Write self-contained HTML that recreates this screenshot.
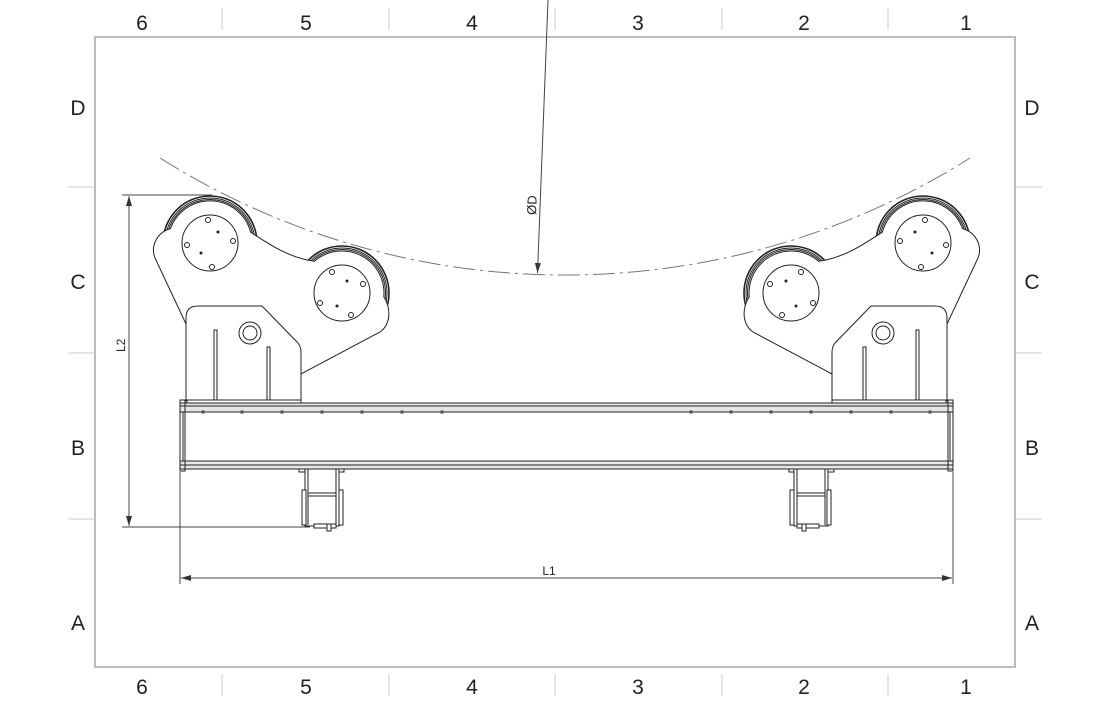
<!DOCTYPE html>
<html><head><meta charset="utf-8"><style>
html,body{margin:0;padding:0;background:#fff}
svg{display:block}
text{font-family:"Liberation Sans",sans-serif;fill:#222}
</style></head><body>
<svg width="1110" height="720" viewBox="0 0 1110 720" xmlns="http://www.w3.org/2000/svg">
<defs>
<marker id="ar" markerWidth="10" markerHeight="8" refX="10" refY="4" orient="auto-start-reverse" markerUnits="userSpaceOnUse">
<path d="M0,1 L10,4 L0,7 Z" fill="#333"/></marker>
<g id="asm" fill="#fff" stroke="#222" stroke-width="1">
  <circle cx="210" cy="243" r="47" stroke-width="1.6"/><circle cx="210" cy="243" r="45" fill="none"/><circle cx="210" cy="243" r="43.5" fill="none"/>
  <circle cx="342" cy="293" r="47" stroke-width="1.6"/><circle cx="342" cy="293" r="45" fill="none"/><circle cx="342" cy="293" r="43.5" fill="none"/>
  <path d="M170.5,228.6 A42 42 0 0 1 250.6,232.1 C270,245 290,258 314.4,261.3 A42 42 0 0 1 383.8,296.7 C392,310 390,325 380,332 L301,374 L186,324 L155,258 C150,245 158,232 170.5,228.6 Z"/>
  <circle cx="210" cy="243" r="28"/>
  <circle cx="208" cy="220" r="2.5"/><circle cx="187" cy="245" r="2.5"/><circle cx="233" cy="241" r="2.5"/><circle cx="212" cy="267" r="2.5"/>
  <circle cx="218" cy="232" r="1" fill="#222"/><circle cx="201" cy="253" r="1" fill="#222"/>
  <circle cx="342" cy="293" r="28"/>
  <circle cx="332" cy="272" r="2.5"/><circle cx="363" cy="284" r="2.5"/><circle cx="320" cy="303" r="2.5"/><circle cx="351" cy="315" r="2.5"/>
  <circle cx="347" cy="281" r="1" fill="#222"/><circle cx="337" cy="306" r="1" fill="#222"/>
  <path d="M186,401 L186,318 Q186,306 198,306 L262,306 L298,343 Q301,347 301,352 L301,401 Z"/>
  <circle cx="250" cy="333" r="11"/><circle cx="250" cy="333" r="7"/>
  <rect x="214" y="330" width="3" height="70"/><rect x="267" y="347" width="3" height="53"/>
  <rect x="187" y="400" width="114" height="3"/>
  <rect x="299" y="466" width="7" height="6"/><rect x="337" y="466" width="7" height="6"/>
  <rect x="305" y="469" width="34" height="57"/>
  <line x1="308" y1="469" x2="308" y2="525"/><line x1="336" y1="469" x2="336" y2="525"/>
  <rect x="302" y="490" width="4" height="35"/><rect x="339" y="490" width="4" height="35"/>
  <line x1="308" y1="493" x2="336" y2="493"/><line x1="308" y1="496" x2="336" y2="496"/>
  <rect x="314" y="524" width="22" height="4"/><rect x="327" y="524" width="4" height="7"/>
</g>
</defs>

<rect x="95" y="37" width="920" height="630" fill="none" stroke="#bbb" stroke-width="2"/>
<g stroke="#ccc" stroke-width="1">
  <line x1="222" y1="8" x2="222" y2="30"/><line x1="389" y1="8" x2="389" y2="30"/><line x1="555" y1="8" x2="555" y2="30"/><line x1="722" y1="8" x2="722" y2="30"/><line x1="888" y1="8" x2="888" y2="30"/>
  <line x1="222" y1="674" x2="222" y2="696"/><line x1="389" y1="674" x2="389" y2="696"/><line x1="555" y1="674" x2="555" y2="696"/><line x1="722" y1="674" x2="722" y2="696"/><line x1="888" y1="674" x2="888" y2="696"/>
  <line x1="68" y1="187" x2="95" y2="187"/><line x1="68" y1="353" x2="95" y2="353"/><line x1="68" y1="519" x2="95" y2="519"/>
  <line x1="1015" y1="187" x2="1042" y2="187"/><line x1="1015" y1="353" x2="1042" y2="353"/><line x1="1015" y1="519" x2="1042" y2="519"/>
</g>
<g font-size="21" text-anchor="middle">
  <text x="142" y="30">6</text><text x="306" y="30">5</text><text x="472" y="30">4</text><text x="638" y="30">3</text><text x="804" y="30">2</text><text x="966" y="30">1</text>
  <text x="142" y="694">6</text><text x="306" y="694">5</text><text x="472" y="694">4</text><text x="638" y="694">3</text><text x="804" y="694">2</text><text x="966" y="694">1</text>
  <text x="78" y="115">D</text><text x="78" y="289">C</text><text x="78" y="455">B</text><text x="78" y="630">A</text>
  <text x="1032" y="115">D</text><text x="1032" y="289">C</text><text x="1032" y="455">B</text><text x="1032" y="630">A</text>
</g>

<path d="M160,158 A759.5 759.5 0 0 0 970,158" fill="none" stroke="#777" stroke-width="1" stroke-dasharray="22,5,3,5"/>
<line x1="548" y1="0" x2="537.5" y2="273" stroke="#444" stroke-width="1" marker-end="url(#ar)"/>
<text x="0" y="0" font-size="13" transform="translate(536,215) rotate(-88)">ØD</text>

<use href="#asm"/>
<use href="#asm" transform="translate(1133,0) scale(-1,1)"/>

<g stroke="#222" stroke-width="1">
  <rect x="180" y="403" width="773" height="9" fill="#e6e6e6"/>
  <line x1="180" y1="406" x2="953" y2="406"/>
  <rect x="183" y="412" width="767" height="49" fill="#fff"/>
  <rect x="180" y="461" width="773" height="8" fill="#e6e6e6"/>
  <line x1="180" y1="465" x2="953" y2="465"/>
  <rect x="180" y="400" width="5" height="71" fill="none"/>
  <rect x="948" y="400" width="5" height="71" fill="none"/>
</g>
<g fill="#555">
  <circle cx="203" cy="412" r="1.8"/><circle cx="242" cy="412" r="1.8"/><circle cx="282" cy="412" r="1.8"/><circle cx="322" cy="412" r="1.8"/><circle cx="362" cy="412" r="1.8"/><circle cx="402" cy="412" r="1.8"/><circle cx="442" cy="412" r="1.8"/>
  <circle cx="691" cy="412" r="1.8"/><circle cx="731" cy="412" r="1.8"/><circle cx="771" cy="412" r="1.8"/><circle cx="811" cy="412" r="1.8"/><circle cx="851" cy="412" r="1.8"/><circle cx="891" cy="412" r="1.8"/><circle cx="930" cy="412" r="1.8"/>
</g>

<g stroke="#444" stroke-width="1" fill="none">
  <line x1="122" y1="195" x2="212" y2="195"/>
  <line x1="122" y1="527" x2="310" y2="527"/>
  <line x1="129" y1="196" x2="129" y2="526" marker-start="url(#ar)" marker-end="url(#ar)"/>
  <line x1="180" y1="472" x2="180" y2="584"/>
  <line x1="953" y1="472" x2="953" y2="584"/>
  <line x1="181" y1="578" x2="952" y2="578" marker-start="url(#ar)" marker-end="url(#ar)"/>
</g>
<text x="0" y="0" font-size="12" transform="translate(125,352) rotate(-90)">L2</text>
<text x="549" y="575" font-size="12" text-anchor="middle">L1</text>
</svg>
</body></html>
